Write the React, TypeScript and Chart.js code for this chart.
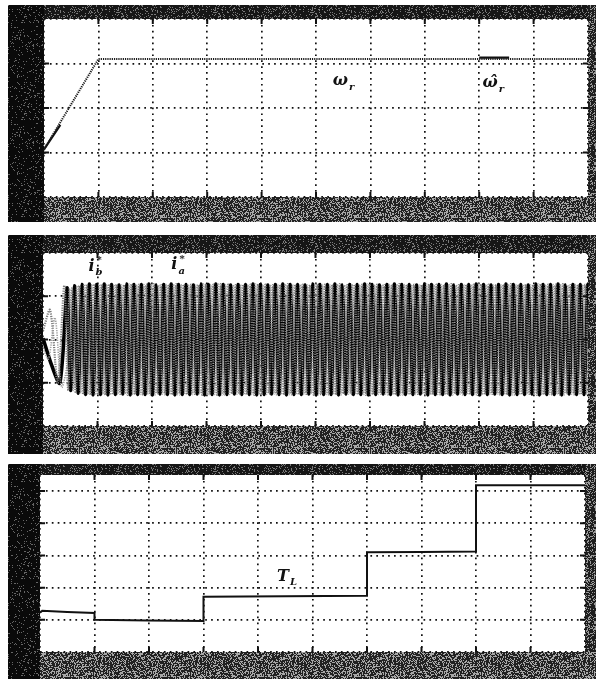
import { useEffect, useRef } from 'react';
import { Chart, registerables } from 'chart.js';
Chart.register(...registerables);

// ---------- Panel 1: rotor speed (values in grid divisions) ----------
const speedTimes = [0, 1, 10];
const speedValues = [1.07, 3.1, 3.1];
const speedEstTimes = [0, 0.3, 0.3, 8.0, 8.55];
const speedEstValues: (number | null)[] = [1.07, 1.62, null, 3.13, 3.13];

// ---------- Panel 2: stator currents ----------
const iaStartTimes = [0, 0.16, 0.31];
const iaStartValues = [0.03, -0.6, -1.0];
const ibStartTimes = [0, 0.13, 0.27, 0.39];
const ibStartValues = [0.2, 0.68, -1.0, 1.25];
const icStartTimes = [0, 0.1, 0.22, 0.34];
const icStartValues = [-0.2, -0.45, 0.5, -1.1];
const currentCycleStart = 0.44;
const currentCyclePeriod = 0.1365;
const currentCycleShape = [1, 0.5, -0.5, -1, -0.5, 0.5];
const currentCycleAmplitude = [
  1.18, 1.24, 1.27, 1.28, 1.27, 1.28, 1.27, 1.26, 1.28, 1.27,
  1.27, 1.28, 1.26, 1.27, 1.28, 1.27, 1.27, 1.26, 1.28, 1.27,
  1.28, 1.27, 1.26, 1.27, 1.27, 1.28, 1.27, 1.26, 1.27, 1.28,
  1.27, 1.27, 1.26, 1.28, 1.27, 1.27, 1.28, 1.26, 1.27, 1.27,
  1.28, 1.27, 1.26, 1.27, 1.28, 1.27, 1.27, 1.26, 1.28, 1.27,
  1.27, 1.28, 1.26, 1.27, 1.27, 1.28, 1.27, 1.26, 1.27, 1.28,
  1.27, 1.27, 1.26, 1.28, 1.27, 1.27, 1.28, 1.26, 1.27, 1.27,
  1.27,
];

// ---------- Panel 3: load torque ----------
const torqueTimes = [0, 0.04, 0.5, 1, 1, 2, 3, 3, 4.5, 6, 6, 7, 8, 8, 9, 10];
const torqueValues = [1.22, 1.28, 1.24, 1.21, 1.0, 0.98, 0.96, 1.72, 1.73, 1.75, 3.1, 3.11, 3.12, 5.18, 5.18, 5.18];

// ---------- Labels ----------
type Lbl = { text: string; sub: string; sup?: string; x: number; y: number };
const speedLabels: Lbl[] = [
  { text: 'ω', sub: 'r', x: 5.45, y: 2.6 },
  { text: 'ω\u0302', sub: 'r', x: 8.2, y: 2.56 },
];
const currentLabels: Lbl[] = [
  { text: 'i', sub: 'b', sup: '*', x: 0.89, y: 1.68 },
  { text: 'i', sub: 'a', sup: '*', x: 2.41, y: 1.72 },
];
const torqueLabels: Lbl[] = [{ text: 'T', sub: 'L', x: 4.46, y: 2.34 }];

type P = { x: number; y: number | null };
const zip = (ts: number[], vs: (number | null)[]): P[] => ts.map((t, i) => ({ x: t, y: vs[i] }));

function buildPhase(ts: number[], vs: number[], shift: number): P[] {
  const pts = zip(ts, vs);
  const n = currentCycleShape.length;
  const step = currentCyclePeriod / n;
  currentCycleAmplitude.forEach((amp, c) => {
    for (let s = 0; s < n; s++) {
      pts.push({ x: currentCycleStart + (c * n + s) * step, y: amp * currentCycleShape[(s + shift) % n] });
    }
  });
  return pts;
}

// deterministic (hash based) speckle texture imitating the scanned scope frame
function speckle(ctx: CanvasRenderingContext2D, base: string, light: string, threshold: number) {
  const S = 97;
  const c = document.createElement('canvas');
  c.width = S; c.height = S;
  const g = c.getContext('2d')!;
  g.fillStyle = base; g.fillRect(0, 0, S, S);
  g.fillStyle = light;
  for (let y = 0; y < S; y++) {
    for (let x = 0; x < S; x++) {
      let h = (x * 374761393 + y * 668265263) | 0;
      h = Math.imul(h ^ (h >>> 13), 1274126177);
      h = (h ^ (h >>> 16)) >>> 0;
      if ((h & 255) < threshold) g.fillRect(x, y, 1, 1);
    }
  }
  return ctx.createPattern(c, 'repeat')!;
}

const framePlugin = {
  id: 'scopeFrame',
  beforeDraw(chart: any) {
    const { ctx, width, height, chartArea: a } = chart;
    ctx.save();
    ctx.fillStyle = speckle(ctx, '#161616', '#7a7a7a', 45);
    ctx.fillRect(0, 0, width, height);
    ctx.fillStyle = speckle(ctx, '#0a0a0a', '#666', 22);
    ctx.fillRect(0, 0, a.left, height);
    ctx.fillStyle = speckle(ctx, '#222', '#a8a8a8', 95);
    ctx.fillRect(a.left, a.bottom, width - a.left, height - a.bottom);
    ctx.fillStyle = speckle(ctx, '#1e1e1e', '#999', 80);
    ctx.fillRect(a.right, 0, width - a.right, a.bottom);
    ctx.fillStyle = '#ffffff';
    ctx.fillRect(a.left, a.top, a.right - a.left, a.bottom - a.top);
    ctx.restore();
  },
  afterDraw(chart: any) {
    const { ctx, chartArea: a, scales } = chart;
    ctx.save();
    ctx.strokeStyle = '#111';
    ctx.lineWidth = 2;
    const L = 5;
    scales.x.ticks.forEach((t: any) => {
      const px = scales.x.getPixelForValue(t.value);
      if (px <= a.left + 1 || px >= a.right - 1) return;
      ctx.beginPath();
      ctx.moveTo(px, a.top); ctx.lineTo(px, a.top + L);
      ctx.moveTo(px, a.bottom); ctx.lineTo(px, a.bottom - L);
      ctx.stroke();
    });
    scales.y.ticks.forEach((t: any) => {
      const py = scales.y.getPixelForValue(t.value);
      if (py <= a.top + 1 || py >= a.bottom - 1) return;
      ctx.beginPath();
      ctx.moveTo(a.left, py); ctx.lineTo(a.left + L, py);
      ctx.moveTo(a.right, py); ctx.lineTo(a.right - L, py);
      ctx.stroke();
    });
    ctx.restore();
  },
};

const textPlugin = {
  id: 'scopeText',
  afterDatasetsDraw(chart: any, _args: any, opts: any) {
    const items: Lbl[] = opts.items || [];
    const { ctx, scales } = chart;
    ctx.save();
    ctx.fillStyle = '#111';
    ctx.textBaseline = 'middle';
    items.forEach((it) => {
      const px = scales.x.getPixelForValue(it.x);
      const py = scales.y.getPixelForValue(it.y);
      ctx.font = 'italic bold 16px "DejaVu Serif"';
      ctx.textAlign = 'center';
      ctx.fillText(it.text, px, py);
      const w = ctx.measureText(it.text).width;
      ctx.textAlign = 'left';
      ctx.font = 'italic bold 10px "DejaVu Serif"';
      ctx.fillText(it.sub, px + w / 2 + 1, py + 6);
      if (it.sup) ctx.fillText(it.sup, px + w / 2 + 2, py - 6);
    });
    ctx.restore();
  },
};

function scaleCfg(min: number, max: number, includeBounds = true) {
  return {
    type: 'linear',
    min,
    max,
    ticks: { display: false, stepSize: 1, includeBounds },
    grid: { color: '#111', lineWidth: 1.7, drawTicks: false },
    border: { display: false, dash: [1.7, 4.2] },
  };
}

function makeConfig(datasets: any[], yMin: number, yMax: number, pad: any, labels: Lbl[], includeBounds = true): any {
  return {
    type: 'line',
    data: { datasets },
    options: {
      animation: false,
      responsive: false,
      events: [],
      layout: { padding: pad },
      elements: { point: { radius: 0 } },
      scales: { x: scaleCfg(0, 10), y: scaleCfg(yMin, yMax, includeBounds) },
      plugins: { legend: { display: false }, tooltip: { enabled: false }, scopeText: { items: labels } },
    },
    plugins: [framePlugin, textPlugin],
  };
}

function Panel({ cfg, top, height }: { cfg: () => any; top: number; height: number }) {
  const ref = useRef<HTMLCanvasElement>(null);
  useEffect(() => {
    const chart = new Chart(ref.current!, cfg());
    return () => chart.destroy();
  }, []);
  return (
    <canvas
      ref={ref}
      width={588}
      height={height}
      style={{ position: 'absolute', left: 8, top, width: 588, height, display: 'block' }}
    />
  );
}

export default function App() {
  const speedCfg = () =>
    makeConfig(
      [
        { label: 'ω_r', data: zip(speedTimes, speedValues), borderColor: '#1a1a1a', borderWidth: 2, borderDash: [1.2, 1], tension: 0 },
        { label: 'ω̂_r', data: zip(speedEstTimes, speedEstValues), borderColor: '#111', borderWidth: 2.2, spanGaps: false, tension: 0 },
      ],
      0, 4, { left: 36, right: 8, top: 14, bottom: 25 }, speedLabels,
    );
  const currentCfg = () =>
    makeConfig(
      [
        { label: 'i_c', data: buildPhase(icStartTimes, icStartValues, 4), borderColor: '#9a9a9a', borderWidth: 1.6, borderDash: [1.2, 1.2], tension: 0.3 },
        { label: 'i_b*', data: buildPhase(ibStartTimes, ibStartValues, 2), borderColor: '#7a7a7a', borderWidth: 2.2, borderDash: [1.2, 1.2], tension: 0.3 },
        { label: 'i_a*', data: buildPhase(iaStartTimes, iaStartValues, 0), borderColor: '#000', borderWidth: 3.6, tension: 0.3 },
      ],
      -2, 2, { left: 35, right: 8, top: 18, bottom: 28 }, currentLabels,
    );
  const torqueCfg = () =>
    makeConfig(
      [{ label: 'T_L', data: zip(torqueTimes, torqueValues), borderColor: '#111', borderWidth: 2, tension: 0 }],
      0, 5.5, { left: 32, right: 11, top: 11, bottom: 27 }, torqueLabels, false,
    );
  return (
    <div style={{ position: 'absolute', left: 0, top: 0, width: 596, height: 679, background: '#fff' }}>
      <Panel cfg={speedCfg} top={5} height={217} />
      <Panel cfg={currentCfg} top={235} height={219} />
      <Panel cfg={torqueCfg} top={464} height={215} />
    </div>
  );
}
